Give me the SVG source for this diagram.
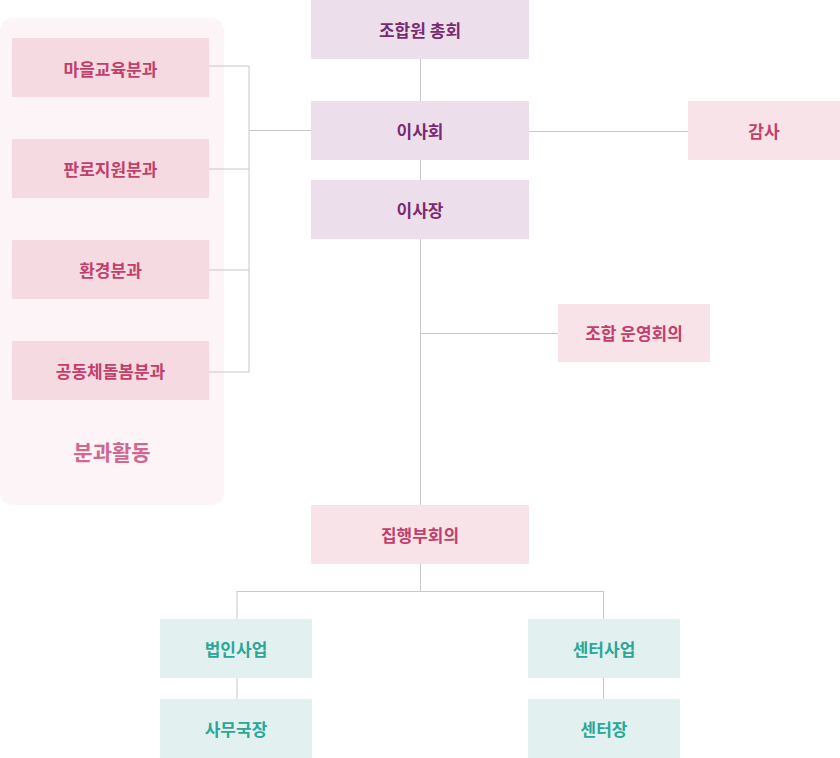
<svg xmlns="http://www.w3.org/2000/svg" width="840" height="758" viewBox="0 0 840 758">
<style>
text{font-family:"Noto Sans CJK KR","Noto Sans",sans-serif;font-size:17px;font-weight:700;text-anchor:middle}
.br rect{fill:#f5dae2}.br text{fill:#c23f6b}
.pu rect{fill:#ecdfeb}.pu text{fill:#7a2a70}
.pk rect{fill:#f8e3e9}.pk text{fill:#c23f6b}
.te rect{fill:#e2f1f0}.te text{fill:#2ba797}
#connectors path{fill:none;stroke:#c8c8c8;stroke-width:1}
</style>
<rect id="panel" x="0" y="18" width="224" height="487" rx="13" fill="#fcf4f6"/>
<text x="112" y="460" style="font-size:21px;font-weight:700;fill:#d0678e">분과활동</text>
<g id="connectors">
<path d="M209 66H249M209 169H249M209 270H249M209 372H249M249 66V372M249 130.5H311"/>
<path d="M420.5 59V101M420.5 160V180M420.5 239V505M420.5 333.5H558M529 131.5H688"/>
<path d="M420.5 564V591.5M237 591.5H603.5M237 591V619M603.5 591V619M237 678V699M603.5 678V699"/>
</g>
<g id="n1" class="br"><rect x="12" y="38" width="197" height="59"/><text x="110.5" y="75.5">마을교육분과</text></g>
<g id="n2" class="br"><rect x="12" y="139" width="197" height="59"/><text x="110.5" y="176">판로지원분과</text></g>
<g id="n3" class="br"><rect x="12" y="240" width="197" height="59"/><text x="110.5" y="277">환경분과</text></g>
<g id="n4" class="br"><rect x="12" y="341" width="197" height="59"/><text x="110.5" y="378">공동체돌봄분과</text></g>
<g id="n5" class="pu"><rect x="311" y="0" width="218" height="59"/><text x="420" y="36.5">조합원 총회</text></g>
<g id="n6" class="pu"><rect x="311" y="101" width="218" height="59"/><text x="420" y="137.5">이사회</text></g>
<g id="n7" class="pu"><rect x="311" y="180" width="218" height="59"/><text x="420" y="216.5">이사장</text></g>
<g id="n8" class="pk"><rect x="688" y="101" width="152" height="59"/><text x="764" y="137.5">감사</text></g>
<g id="n9" class="pk"><rect x="558" y="304" width="152" height="58"/><text x="634" y="340">조합 운영회의</text></g>
<g id="n10" class="pk"><rect x="311" y="505" width="218" height="59"/><text x="420" y="541.5">집행부회의</text></g>
<g id="n11" class="te"><rect x="160" y="619" width="152" height="59"/><text x="236" y="655.5">법인사업</text></g>
<g id="n12" class="te"><rect x="160" y="699" width="152" height="59"/><text x="236" y="735.5">사무국장</text></g>
<g id="n13" class="te"><rect x="528" y="619" width="152" height="59"/><text x="604" y="655.5">센터사업</text></g>
<g id="n14" class="te"><rect x="528" y="699" width="152" height="59"/><text x="604" y="735.5">센터장</text></g>
</svg>
